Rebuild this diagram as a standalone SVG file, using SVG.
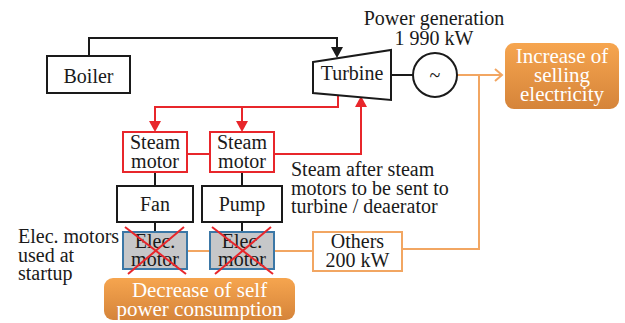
<svg xmlns="http://www.w3.org/2000/svg" width="625" height="323" viewBox="0 0 625 323">
<defs>
<style>
text{font-size:20px;fill:#1a1a1a;text-anchor:middle}
.box{fill:#fff;stroke:#1a1a1a;stroke-width:2}
.red{fill:#fff;stroke:#e8262b;stroke-width:2}
.elec{fill:#c6c7c9;stroke:#3b77a6;stroke-width:2}
.orbox{fill:#fff;stroke:#f2a662;stroke-width:2}
.kline{fill:none;stroke:#1a1a1a;stroke-width:2}
.rline{fill:none;stroke:#e8262b;stroke-width:2}
.oline{fill:none;stroke:#f2a662;stroke-width:2}
.x{stroke:#e8262b;stroke-width:2}
.w{fill:#fff;font-size:21px}
.lft{text-anchor:start}
</style>
<linearGradient id="og" x1="0" y1="0" x2="0" y2="1">
<stop offset="0" stop-color="#f6a54f"/>
<stop offset="1" stop-color="#d5843a"/>
</linearGradient>
</defs>
<rect width="625" height="323" fill="#fff"/>

<g id="connectors">
<path class="kline" d="M89,56V38H337V48"/>
<polygon points="331,47 343,47 337,58" fill="#1a1a1a"/>
<line class="kline" x1="391" y1="75" x2="413" y2="75"/>
<path class="rline" d="M338,95V107H155V122"/>
<path class="rline" d="M242,107V122"/>
<polygon points="149,121 161,121 155,132" fill="#e8262b"/>
<polygon points="236,121 248,121 242,132" fill="#e8262b"/>
<line class="rline" x1="187" y1="154" x2="210" y2="154"/>
<path class="rline" d="M274,154H361V106"/>
<polygon points="355,107 367,107 361,96" fill="#e8262b"/>
<line class="kline" x1="155" y1="172" x2="155" y2="186"/>
<line class="kline" x1="242" y1="172" x2="242" y2="186"/>
<line class="kline" x1="155" y1="222" x2="155" y2="232"/>
<line class="kline" x1="242" y1="222" x2="242" y2="232"/>
<path class="oline" d="M457,75H502"/>
<polyline class="oline" points="495,69 502,75 495,81"/>
<path class="oline" d="M479,75V249H402"/>
<line class="oline" x1="187" y1="251" x2="210" y2="251"/>
<line class="oline" x1="274" y1="251" x2="313" y2="251"/>
</g>

<g font-family="Liberation Serif, Times New Roman, serif">
<g id="boiler"><rect class="box" x="47" y="56" width="83" height="37"/><text x="88.5" y="83" font-family="Liberation Serif, serif">Boiler</text></g>
<g id="turbine"><path class="box" d="M313,62L391,50V100L313,93Z"/><text x="352" y="80" font-family="Liberation Serif, serif">Turbine</text></g>
<g id="generator"><circle cx="435" cy="75" r="22" fill="#fff" stroke="#1a1a1a" stroke-width="2"/><text x="435" y="82" font-family="Liberation Serif, serif">~</text></g>
<g id="power-label"><text x="434" y="25" font-family="Liberation Serif, serif">Power generation</text><text x="434" y="45" font-family="Liberation Serif, serif">1 990 kW</text></g>
<g id="increase"><rect x="505" y="43" width="114" height="66" rx="9" fill="url(#og)"/><text class="w" x="562" y="63" font-family="Liberation Serif, serif">Increase of</text><text class="w" x="562" y="82" font-family="Liberation Serif, serif">selling</text><text class="w" x="562" y="101" font-family="Liberation Serif, serif">electricity</text></g>
<g id="steam-motor-1"><rect class="red" x="123" y="132" width="64" height="40"/><text x="155" y="149" font-family="Liberation Serif, serif">Steam</text><text x="155" y="168" font-family="Liberation Serif, serif">motor</text></g>
<g id="steam-motor-2"><rect class="red" x="210" y="132" width="64" height="40"/><text x="242" y="149" font-family="Liberation Serif, serif">Steam</text><text x="242" y="168" font-family="Liberation Serif, serif">motor</text></g>
<g id="steam-note"><text class="lft" x="291" y="176" font-family="Liberation Serif, serif">Steam after steam</text><text class="lft" x="291" y="195" font-family="Liberation Serif, serif">motors to be sent to</text><text class="lft" x="291" y="213" font-family="Liberation Serif, serif">turbine / deaerator</text></g>
<g id="fan"><rect class="box" x="117" y="186" width="76" height="36"/><text x="155" y="211" font-family="Liberation Serif, serif">Fan</text></g>
<g id="pump"><rect class="box" x="202" y="186" width="80" height="36"/><text x="242" y="211" font-family="Liberation Serif, serif">Pump</text></g>
<g id="elec-motor-1"><rect class="elec" x="123" y="232" width="64" height="37"/><text x="155" y="248" font-family="Liberation Serif, serif">Elec.</text><text x="155" y="266" font-family="Liberation Serif, serif">motor</text><line class="x" x1="125" y1="227" x2="186" y2="274"/><line class="x" x1="184" y1="227" x2="128" y2="274"/></g>
<g id="elec-motor-2"><rect class="elec" x="210" y="232" width="64" height="37"/><text x="242" y="248" font-family="Liberation Serif, serif">Elec.</text><text x="242" y="266" font-family="Liberation Serif, serif">motor</text><line class="x" x1="212" y1="227" x2="273" y2="274"/><line class="x" x1="271" y1="227" x2="215" y2="274"/></g>
<g id="elec-note"><text class="lft" x="18" y="243" font-family="Liberation Serif, serif">Elec. motors</text><text class="lft" x="18" y="262" font-family="Liberation Serif, serif">used at</text><text class="lft" x="18" y="280" font-family="Liberation Serif, serif">startup</text></g>
<g id="others"><rect class="orbox" x="313" y="232" width="89" height="39"/><text x="357.5" y="248" font-family="Liberation Serif, serif">Others</text><text x="357.5" y="267" font-family="Liberation Serif, serif">200 kW</text></g>
<g id="decrease"><rect x="104" y="278" width="191" height="42" rx="9" fill="url(#og)"/><text class="w" x="199.5" y="297" font-family="Liberation Serif, serif">Decrease of self</text><text class="w" x="199.5" y="316" font-family="Liberation Serif, serif">power consumption</text></g>
</g>
</svg>
